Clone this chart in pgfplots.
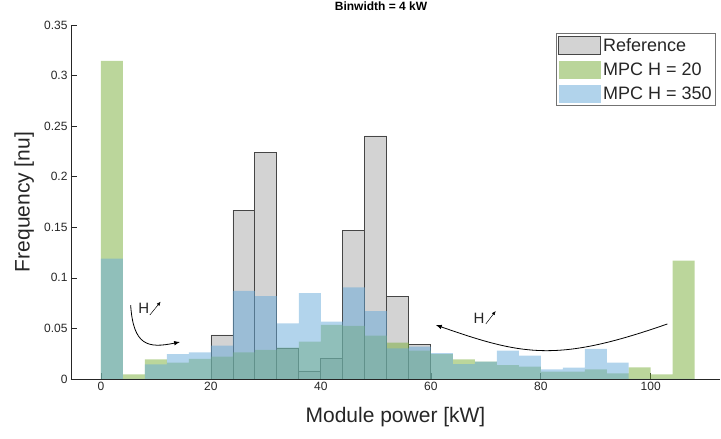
\documentclass[border=0pt]{standalone}
\usepackage{pgfplots}
\pgfplotsset{compat=1.18}
\usepackage{fontspec}
\setmainfont{Liberation Sans}
\usetikzlibrary{arrows.meta}
\definecolor{axgray}{RGB}{38,38,38}
\definecolor{refgray}{RGB}{211,211,211}
\definecolor{refedge}{RGB}{70,70,70}
\definecolor{mpcgreen}{RGB}{119,173,55}
\definecolor{mpcblue}{RGB}{101,169,217}
\begin{document}
\begin{tikzpicture}
\begin{axis}[
  scale only axis, width=649pt, height=354pt,
  xmin=-5.45, xmax=112.6, ymin=0, ymax=0.35,
  axis x line*=bottom, axis y line*=left,
  axis line style={axgray, line width=0.6pt},
  tick align=inside, major tick length=6pt,
  tick style={axgray, line width=0.6pt},
  xtick={0,20,40,60,80,100}, xticklabels={0,20,40,60,80,100},
  ytick={0,0.05,0.1,0.15,0.2,0.25,0.3,0.35},
  yticklabels={0,0.05,0.1,0.15,0.2,0.25,0.3,0.35},
  ticklabel style={font=\fontsize{12}{14}\selectfont, text=axgray},
  /pgf/number format/assume math mode=true,
  xlabel={Module power [kW]},
  ylabel={Frequency [nu]},
  xlabel style={at={(axis description cs:0.5,-0.1215)}, anchor=base, font=\fontsize{21}{24}\selectfont, text=axgray},
  ylabel style={at={(axis description cs:-0.0639,0.5)}, anchor=base, font=\fontsize{21}{24}\selectfont, text=axgray},
  title={Binwidth = 4 kW},
  title style={at={(axis description cs:0.4777,1.023)}, anchor=base, font=\bfseries\fontsize{12}{14}\selectfont, text=black},
  legend style={at={(axis description cs:0.9938,0.977)}, anchor=north east, draw=black!55, line width=0.6pt,
    font=\fontsize{18}{20}\selectfont, text=axgray, inner xsep=2pt, inner ysep=2.5pt, row sep=6pt},
  legend cell align=left,
]
\coordinate (SW) at (rel axis cs:0,0);
\coordinate (NE) at (rel axis cs:1,1);

\addplot[ybar interval, fill=refgray, draw=refedge, line width=0.8pt,
  legend image code/.code={\draw[fill=refgray, draw=refedge, line width=0.8pt] (0pt,-9pt) rectangle (42pt,9pt);}]
  coordinates {(20,0.0435) (24,0.167) (28,0.224) (32,0.0303) (36,0.0079) (40,0.0204)
               (44,0.1466) (48,0.2403) (52,0.0814) (56,0.0343) (60,0.0343)};
\addlegendentry{Reference}

\addplot[ybar interval, fill=mpcgreen, fill opacity=0.5, draw=none,
  legend image code/.code={\fill[mpcgreen, fill opacity=0.5] (0pt,-9pt) rectangle (42pt,9pt);}]
  coordinates {(0,0.3144) (4,0.0046) (8,0.0195) (12,0.0161) (16,0.0198) (20,0.022)
               (24,0.0264) (28,0.0287) (32,0.031) (36,0.0369) (40,0.0534) (44,0.0524)
               (48,0.0428) (52,0.0359) (56,0.028) (60,0.0247) (64,0.0195) (68,0.0171)
               (72,0.0138) (76,0.0122) (80,0.0072) (84,0.0072) (88,0.0096) (92,0.0056)
               (96,0.0116) (100,0.0046) (104,0.117) (108,0.117)};
\addlegendentry{MPC H = 20}

\addplot[ybar interval, fill=mpcblue, fill opacity=0.5, draw=none,
  legend image code/.code={\fill[mpcblue, fill opacity=0.5] (0pt,-9pt) rectangle (42pt,9pt);}]
  coordinates {(0,0.119) (4,0) (8,0.0145) (12,0.0247) (16,0.0264) (20,0.033)
               (24,0.087) (28,0.082) (32,0.055) (36,0.085) (40,0.0567) (44,0.0907)
               (48,0.0672) (52,0.0303) (56,0.0319) (60,0.0255) (64,0.0148) (68,0.0171)
               (72,0.028) (76,0.023) (80,0.0096) (84,0.0112) (88,0.0297) (92,0.0161)
               (96,0) (100,0) (104,0) (108,0)};
\addlegendentry{MPC H = 350}

\draw[black, line width=0.8pt, -{Latex[length=6pt,width=4.5pt]}]
  (axis cs:5.4,0.073) .. controls (axis cs:5.9,0.033) and (axis cs:8.5,0.030) .. (axis cs:14.4,0.0366);
\node[font=\fontsize{15}{17}\selectfont, text=axgray] at (axis cs:7.78,0.0695) {H};
\draw[black, line width=0.5pt, -{Latex[length=4pt,width=3.5pt]}] (axis cs:8.9,0.0633) -- (axis cs:10.85,0.0764);

\draw[black, line width=0.8pt, -{Latex[length=6pt,width=4.5pt]}]
  (axis cs:103.03,0.0544) .. controls (axis cs:83,0.0164) and (axis cs:76.9,0.023) .. (axis cs:60.9,0.0534);
\node[font=\fontsize{15}{17}\selectfont, text=axgray] at (axis cs:68.76,0.0596) {H};
\draw[black, line width=0.5pt, -{Latex[length=4pt,width=3.5pt]}] (axis cs:70.0,0.0544) -- (axis cs:71.8,0.0672);
\end{axis}
\pgfresetboundingbox
\path ([xshift=-71pt,yshift=-60pt]SW) rectangle ([xshift=1pt,yshift=25pt]NE);
\end{tikzpicture}
\end{document}
